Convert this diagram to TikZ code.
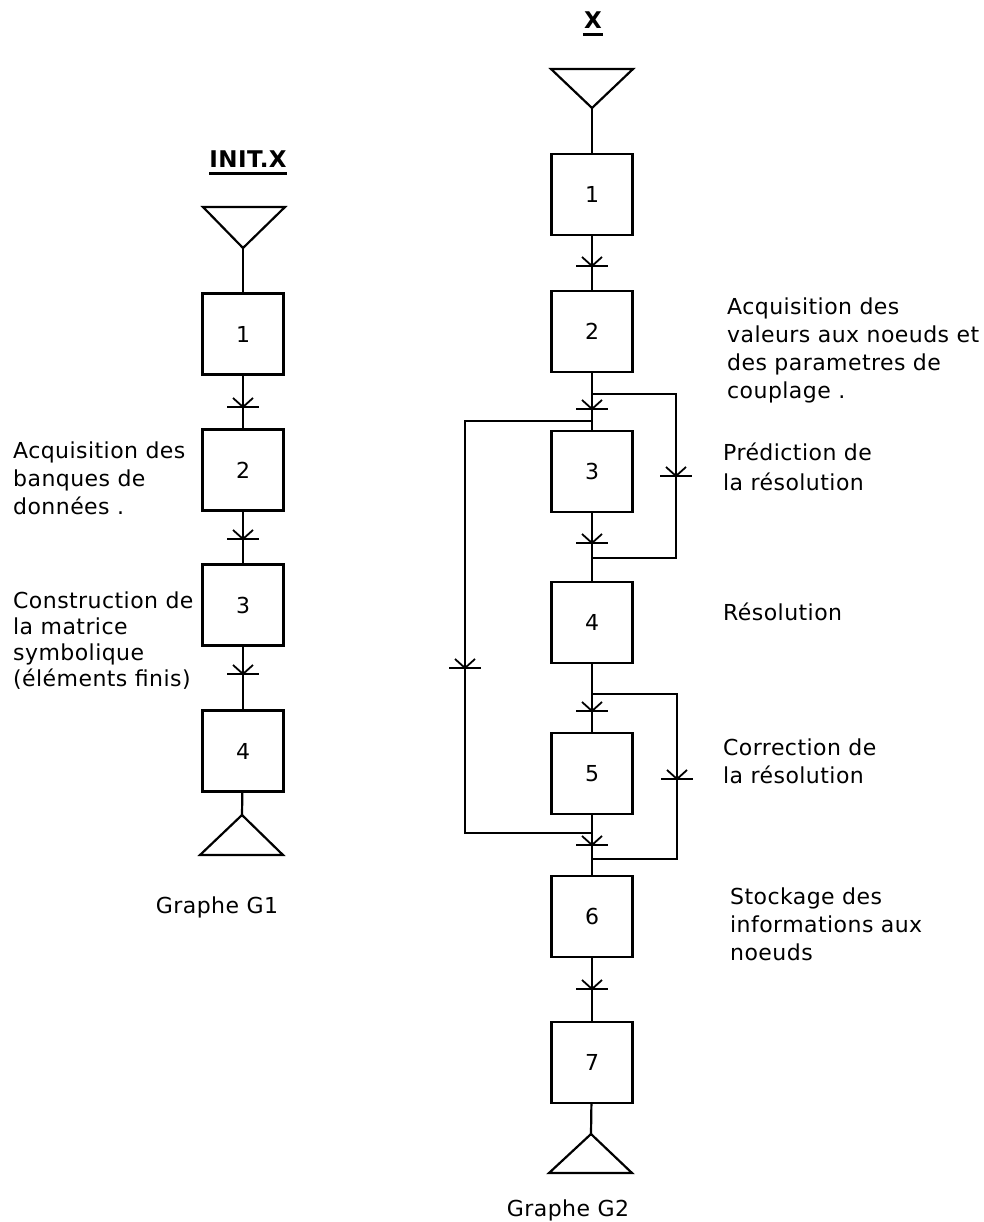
\documentclass[tikz,border=0pt]{standalone}
\usepackage{fontspec}
\newfontfamily\plotfont[LetterSpace=2]{DejaVu Sans}
\usetikzlibrary{positioning}

\tikzset{
  trait/.style={line width=2.2pt},
  etape/.style={draw, line width=2.2pt, minimum width=81pt, minimum height=81pt, inner sep=0pt, outer sep=0pt, font=\plotfont\fontsize{22}{28}\selectfont},
  texte/.style={anchor=west, align=left, inner sep=0pt, font=\plotfont\fontsize{22}{28}\selectfont},
  titre/.style={inner sep=0pt, font=\plotfont\bfseries\fontsize{23}{27}\selectfont},
  trans/.pic={\draw[line width=2.2pt] (-16,0) -- (16,0); \draw[line width=1.8pt] (-10,-9) -- (0,0) -- (10,-9);}
}

\begin{document}
\begin{tikzpicture}[x=1pt, y=-1pt]
	\useasboundingbox (0,0) rectangle (984,1222);

	% graphe G1
	\node[titre] (tinit) at (248,159) {INIT.X};%
	\draw[trait] ([yshift=-6pt]tinit.south west) -- ([yshift=-6pt]tinit.south east);
	\coordinate (d1) at (243,248);%
	\draw[trait] (d1) -- ++(-40,-41) -- ++(82,0) -- cycle;
	\node[etape] (A1) at (243,334) {1};%
	\node[etape, below=55pt of A1] (A2) {2};%
	\node[etape, below=54pt of A2] (A3) {3};%
	\node[etape, below=65pt of A3] (A4) {4};%
	\coordinate (f1) at (242,815);%
	\draw[trait] (f1) -- ++(-42,40) -- ++(83,0) -- cycle;

	\node[texte] (txA2) at (13,478) {Acquisition des\\banques de\\données .};%
	\node[texte, font=\plotfont\fontsize{22}{26}\selectfont] (txA3) at (13,641) {Construction de\\la matrice\\symbolique\\(éléments finis)};%
	\node[texte, anchor=center] (g1) at (217,907) {Graphe G1};%

	% liaisons G1
	\draw[trait] (d1) -- (A1);
	\draw[trait] (A1) -- (A2);
	\draw[trait] (A2) -- (A3);
	\draw[trait] (A3) -- (A4);
	\draw[trait] (A4) -- (f1);
	\pic at (243,407) {trans};
	\pic at (243,539) {trans};
	\pic at (243,674) {trans};

	% graphe G2
	\node[titre] (tx) at (593,20) {X};%
	\draw[trait] ([yshift=-6pt,xshift=-1pt]tx.south west) -- ([yshift=-6pt,xshift=1pt]tx.south east);
	\coordinate (d2) at (592,108);%
	\draw[trait] (d2) -- ++(-41,-39) -- ++(82,0) -- cycle;
	\node[etape] (B1) at (592,194.5) {1};%
	\node[etape, below=56pt of B1] (B2) {2};%
	\node[etape, below=59pt of B2] (B3) {3};%
	\node[etape, below=70pt of B3] (B4) {4};%
	\node[etape, below=70pt of B4] (B5) {5};%
	\node[etape, below=62pt of B5] (B6) {6};%
	\node[etape, below=65pt of B6] (B7) {7};%
	\coordinate (f2) at (591,1134);%
	\draw[trait] (f2) -- ++(-42,39) -- ++(83,0) -- cycle;

	\node[texte] (txB2) at (727,350) {Acquisition des\\valeurs aux noeuds et\\des parametres de\\couplage .};%
	\node[texte, font=\plotfont\fontsize{22}{30}\selectfont] (txB3) at (723,467) {Prédiction de\\la résolution};%
	\node[texte] (txB4) at (723,612) {Résolution};%
	\node[texte] (txB5) at (723,761) {Correction de\\la résolution};%
	\node[texte] (txB6) at (730,924) {Stockage des\\informations aux\\noeuds};%
	\node[texte, anchor=center] (g2) at (568,1210) {Graphe G2};%

	% liaisons G2
	\draw[trait] (d2) -- (B1);
	\draw[trait] (B1) -- (B2);
	\draw[trait] (B2) -- (B3);
	\draw[trait] (B3) -- (B4);
	\draw[trait] (B4) -- (B5);
	\draw[trait] (B5) -- (B6);
	\draw[trait] (B6) -- (B7);
	\draw[trait] (B7) -- (f2);

	% boucles
	\coordinate (jA1) at (592,394);%
	\coordinate (jA2) at (592,558);%
	\draw[trait] (jA1) -- ++(84,0) |- (jA2);
	\coordinate (jB1) at (592,694);%
	\coordinate (jB2) at (592,859);%
	\draw[trait] (jB1) -- ++(85,0) |- (jB2);
	\coordinate (jC1) at (592,421);%
	\coordinate (jC2) at (592,833);%
	\draw[trait] (jC2) -- ++(-127,0) |- (jC1);

	% transitions
	\pic at (592,266) {trans};
	\pic at (592,409) {trans};
	\pic at (592,543) {trans};
	\pic at (592,711) {trans};
	\pic at (592,845) {trans};
	\pic at (592,989) {trans};
	\pic at (676,476) {trans};
	\pic at (677,779) {trans};
	\pic at (465,668) {trans};
\end{tikzpicture}
\end{document}
